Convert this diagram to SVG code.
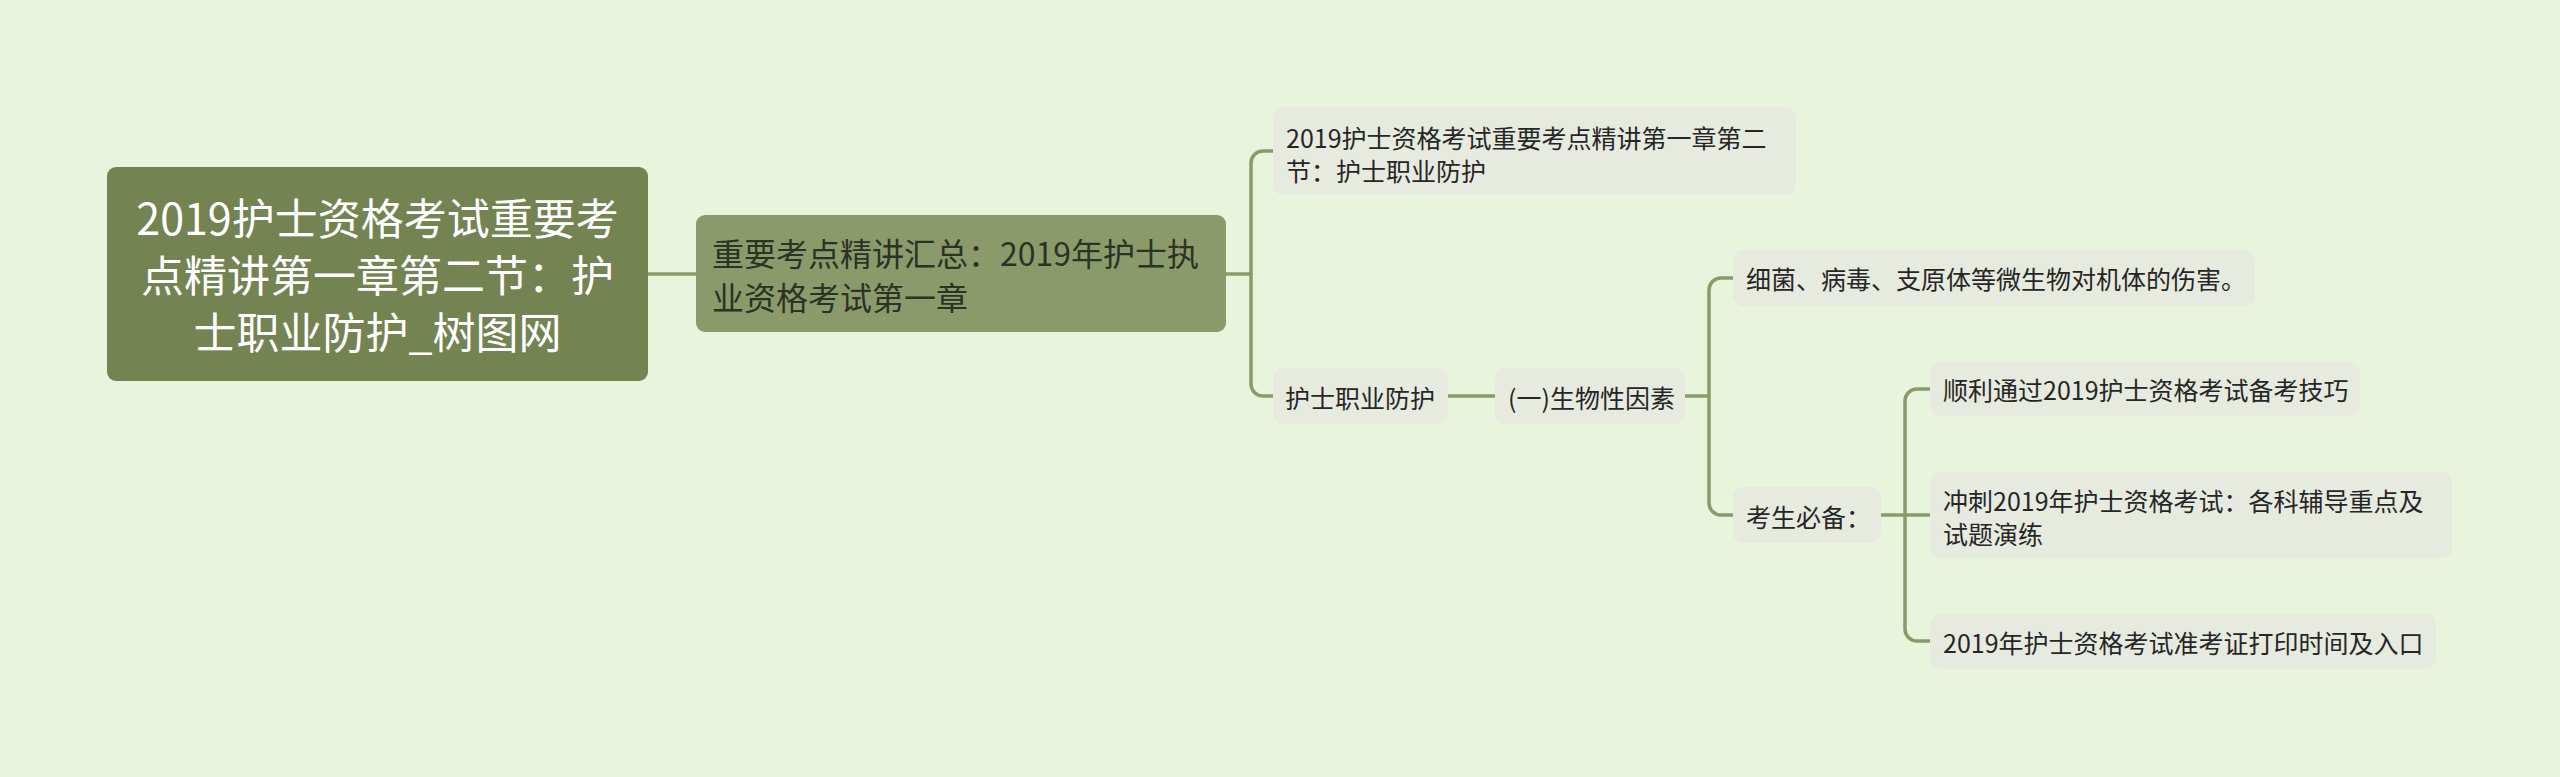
<svg xmlns="http://www.w3.org/2000/svg" width="2560" height="777" viewBox="0 0 2560 777">
<style>
text{font-family:"Noto Sans CJK SC","Noto Sans",sans-serif;dominant-baseline:central}
.root rect{fill:#738352}
.root text{fill:#ffffff;font-size:43px;text-anchor:middle}
.sub rect{fill:#8a9a6b}
.sub text{fill:#2b3324;font-size:32px}
.leaf rect{fill:#e6eadf}
.leaf text{fill:#262626;font-size:25px}
.conn path{fill:none;stroke:#8a9a6b;stroke-width:3.5;stroke-linecap:round}
</style>
<rect width="2560" height="777" fill="#e8f5dc"/>
<g class="conn" id="connectors">
<path d="M648 274 H696"/>
<path d="M1226 274 H1251"/>
<path d="M1273 151 H1263 A12 12 0 0 0 1251 163 V384 A12 12 0 0 0 1263 396 H1273"/>
<path d="M1448 396 H1495"/>
<path d="M1685 396 H1709"/>
<path d="M1733 278 H1721 A12 12 0 0 0 1709 290 V503 A12 12 0 0 0 1721 515 H1733"/>
<path d="M1881 515 H1905"/>
<path d="M1930 389 H1917 A12 12 0 0 0 1905 401 V629 A12 12 0 0 0 1917 641 H1930"/>
<path d="M1905 515 H1930"/>
</g>
<g class="root" id="node-root">
<rect x="107" y="167" width="541" height="214" rx="9"/>
<text x="377.5" y="216">2019护士资格考试重要考</text>
<text x="377.5" y="273">点精讲第一章第二节：护</text>
<text x="377.5" y="330">士职业防护_树图网</text>
</g>
<g class="sub" id="node-summary">
<rect x="696" y="215" width="530" height="117" rx="9"/>
<text x="712" y="252">重要考点精讲汇总：2019年护士执</text>
<text x="712" y="296">业资格考试第一章</text>
</g>
<g class="leaf" id="node-title">
<rect x="1273" y="107" width="523" height="88" rx="10"/>
<text x="1286" y="137">2019护士资格考试重要考点精讲第一章第二</text>
<text x="1286" y="170">节：护士职业防护</text>
</g>
<g class="leaf" id="node-protect">
<rect x="1273" y="368" width="175" height="56" rx="10"/>
<text x="1285" y="397">护士职业防护</text>
</g>
<g class="leaf" id="node-bio">
<rect x="1495" y="368" width="190" height="56" rx="10"/>
<text x="1508" y="397">(一)生物性因素</text>
</g>
<g class="leaf" id="node-micro">
<rect x="1733" y="250" width="522" height="56" rx="10"/>
<text x="1746" y="278">细菌、病毒、支原体等微生物对机体的伤害。</text>
</g>
<g class="leaf" id="node-must">
<rect x="1733" y="487" width="148" height="56" rx="10"/>
<text x="1746" y="516">考生必备：</text>
</g>
<g class="leaf" id="node-tips">
<rect x="1930" y="362" width="430" height="54" rx="10"/>
<text x="1943" y="389">顺利通过2019护士资格考试备考技巧</text>
</g>
<g class="leaf" id="node-sprint">
<rect x="1930" y="472" width="522" height="86" rx="10"/>
<text x="1943" y="500">冲刺2019年护士资格考试：各科辅导重点及</text>
<text x="1943" y="533">试题演练</text>
</g>
<g class="leaf" id="node-ticket">
<rect x="1930" y="614" width="506" height="55" rx="10"/>
<text x="1943" y="642">2019年护士资格考试准考证打印时间及入口</text>
</g>
</svg>
